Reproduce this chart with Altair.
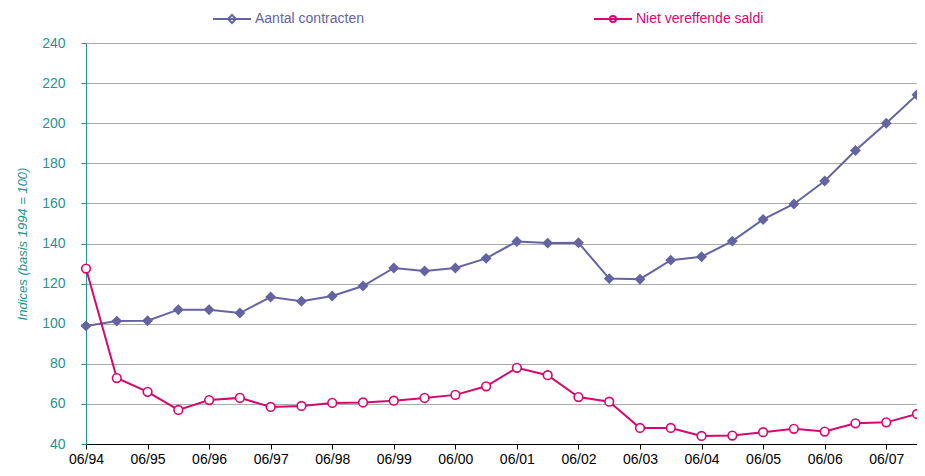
import json
import altair as alt
import pandas as pd

periods = ["06/94", "12/94", "06/95", "12/95", "06/96", "12/96", "06/97", "12/97",
           "06/98", "12/98", "06/99", "12/99", "06/00", "12/00", "06/01", "12/01",
           "06/02", "12/02", "06/03", "12/03", "06/04", "12/04", "06/05", "12/05",
           "06/06", "12/06", "06/07", "12/07"]
tick_labels = ["06/94", "06/95", "06/96", "06/97", "06/98", "06/99", "06/00",
               "06/01", "06/02", "06/03", "06/04", "06/05", "06/06", "06/07"]

series_names = ["Aantal contracten", "Niet vereffende saldi"]
contracten = [98.9, 101.3, 101.5, 107.0, 107.0, 105.3, 113.3, 111.2, 113.8, 118.8,
              127.8, 126.3, 127.8, 132.6, 141.0, 140.2, 140.4, 122.5, 122.2, 131.7,
              133.4, 141.2, 152.0, 159.7, 171.2, 186.4, 200.0, 214.2]
saldi = [127.5, 72.9, 66.0, 57.0, 61.9, 63.0, 58.5, 59.0, 60.5, 60.7,
         61.6, 63.0, 64.5, 68.8, 78.0, 74.3, 63.4, 61.1, 48.0, 48.0,
         44.0, 44.2, 45.9, 47.6, 46.2, 50.3, 50.8, 55.0]

purple = "#6464A2"
magenta = "#D4086F"
teal = "#1F9393"
font = "Liberation Sans"

rows = []
for i, p in enumerate(periods):
    rows.append({"idx": i, "period": p, "series": series_names[0], "value": contracten[i]})
    rows.append({"idx": i, "period": p, "series": series_names[1], "value": saldi[i]})
df = pd.DataFrame(rows)

label_expr = json.dumps(tick_labels) + "[round(datum.value / 2)]"

x_enc = alt.X("idx:Q",
              scale=alt.Scale(domain=[0, len(periods) - 1], nice=False, zero=False),
              axis=alt.Axis(values=list(range(0, len(periods), 2)), labelExpr=label_expr,
                            title=None, grid=False, domainColor="#000000", tickColor="#000000",
                            tickSize=5, labelColor="#000000", labelFontSize=14, labelFont=font,
                            labelPadding=3, labelFlush=False))
y_enc = alt.Y("value:Q",
              scale=alt.Scale(domain=[40, 240], nice=False, zero=False),
              axis=alt.Axis(values=list(range(40, 241, 20)), title="Indices (basis 1994 = 100)",
                            titleFontStyle="italic", titleFontWeight="normal", titleColor=teal,
                            titleFontSize=13, titleFont=font, titlePadding=12,
                            grid=True, gridColor="#ABABAB", gridWidth=1,
                            domainColor=teal, tickColor=teal, tickSize=5,
                            labelColor=teal, labelFontSize=14, labelFont=font,
                            labelPadding=16))

color_scale = alt.Scale(domain=series_names, range=[purple, magenta])

base = alt.Chart(df).encode(x=x_enc, y=y_enc)

lines = base.mark_line(strokeWidth=2).encode(
    color=alt.Color("series:N", scale=color_scale, legend=None))

points = base.mark_point(size=75, strokeWidth=1.6, opacity=1).encode(
    stroke=alt.Stroke("series:N", scale=color_scale, legend=None),
    fill=alt.Fill("series:N", scale=alt.Scale(domain=series_names, range=[purple, "#ffffff"]), legend=None),
    shape=alt.Shape("series:N", scale=alt.Scale(domain=series_names, range=["diamond", "circle"]), legend=None),
)

legend_paths = [
    "M-1,0H1M0,-0.21L0.21,0L0,0.21L-0.21,0Z",
    "M-1,0H-0.16M0.16,0H1M-0.16,0A0.16,0.16 0 1,0 0.16,0A0.16,0.16 0 1,0 -0.16,0M-0.16,0H0.16",
]
legend_fill = [purple, "#ffffff"]
legend_x = [126, 507]
legend_colors = [purple, magenta]

legend_layers = []
for k, name in enumerate(series_names):
    lay = alt.Chart(df).transform_filter(
        alt.datum.series == name
    ).mark_point(opacity=0).encode(
        x=alt.X("idx:Q"), y=alt.Y("value:Q"),
        shape=alt.Shape("series:N",
                        scale=alt.Scale(domain=[name], range=[legend_paths[k]]),
                        legend=alt.Legend(title=None, orient="none", legendX=legend_x[k], legendY=-44,
                                          padding=0, symbolSize=1444, symbolStrokeWidth=2,
                                          symbolStrokeColor=legend_colors[k], symbolFillColor=legend_fill[k],
                                          symbolOpacity=1, labelColor=legend_colors[k], labelFontSize=14,
                                          labelFont=font, labelOffset=3, labelLimit=300))
    )
    legend_layers.append(lay)

chart = alt.layer(lines, points, *legend_layers).resolve_scale(
    shape="independent"
).resolve_legend(shape="independent").properties(
    width=831, height=401,
    autosize=alt.AutoSizeParams(type="none"),
    padding={"left": 78, "top": 35, "right": 0, "bottom": 24},
).configure_view(stroke="#A6A6A6", strokeWidth=1).configure(background="#ffffff")

chart.save("out.html", embed_options={"renderer": "svg", "actions": False})
